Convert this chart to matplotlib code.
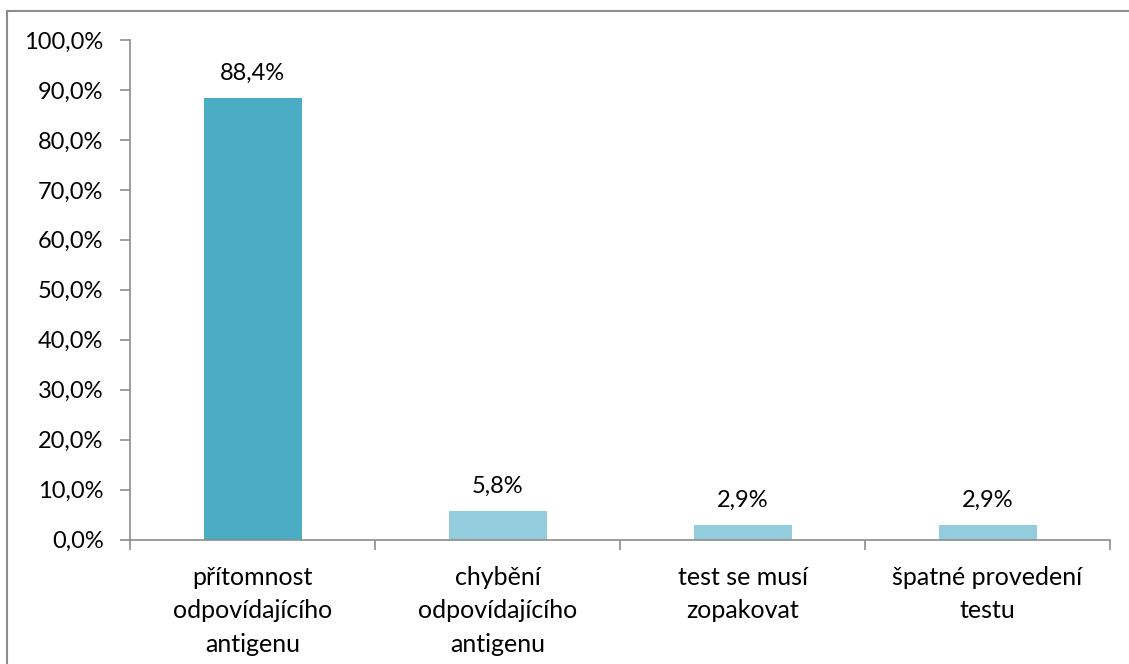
import matplotlib
matplotlib.use("Agg")
import matplotlib.pyplot as plt
from matplotlib.lines import Line2D
from matplotlib.ticker import FuncFormatter, MultipleLocator

categories = [
    "přítomnost\nodpovídajícího\nantigenu",
    "chybění\nodpovídajícího\nantigenu",
    "test se musí\nzopakovat",
    "špatné provedení\ntestu",
]
values = [88.4, 5.8, 2.9, 2.9]
bar_colors = ["#4BACC6", "#93CDDD", "#93CDDD", "#93CDDD"]

W, H = 1129, 664
plt.rcParams["font.family"] = ["Lato", "DejaVu Sans"]
fig = plt.figure(figsize=(W / 100, H / 100), dpi=100)

# frame lines along the top and left edge of the chart area
gray = "#8C8C8C"
fig.add_artist(Line2D([7 / W, 7 / W], [0, 1 - 10.5 / H], transform=fig.transFigure,
                      color=gray, lw=1.5))
fig.add_artist(Line2D([7 / W, 1], [1 - 10.5 / H, 1 - 10.5 / H], transform=fig.transFigure,
                      color=gray, lw=1.5))

left, right, bottom, top = 130, 1110, 539.5, 40
ax = fig.add_axes([left / W, 1 - bottom / H, (right - left) / W, (bottom - top) / H])

fs = 17
x = list(range(len(categories)))
bars = ax.bar(x, values, width=0.40, color=bar_colors, zorder=2)

ax.set_xlim(-0.5, len(categories) - 0.5)
ax.set_ylim(0, 100)
ax.yaxis.set_major_locator(MultipleLocator(10))
ax.yaxis.set_major_formatter(FuncFormatter(lambda v, p: f"{v:.1f}%".replace(".", ",")))

ax.set_xticks([i - 0.5 for i in range(len(categories) + 1)])
ax.set_xticklabels([])
ax.set_xticks(x, minor=True)
ax.set_xticklabels(categories, minor=True)
ax.tick_params(axis="x", which="minor", length=0, pad=19, labelsize=18,
               labelcolor="#000000")
ax.tick_params(axis="x", which="major", length=7, width=1.2, color=gray, direction="out")
ax.tick_params(axis="y", length=7, width=1.2, color=gray, direction="out",
               labelsize=fs, pad=12, labelcolor="#000000")
for lab in ax.get_xticklabels(minor=True):
    lab.set_linespacing(1.55)
    lab.set_horizontalalignment("center")

for s in ["top", "right"]:
    ax.spines[s].set_visible(False)
for s in ["left", "bottom"]:
    ax.spines[s].set_color(gray)
    ax.spines[s].set_linewidth(1.2)

for b, v in zip(bars, values):
    ax.annotate(f"{v:.1f}%".replace(".", ","), (b.get_x() + b.get_width() / 2, v),
                xytext=(0, 10), textcoords="offset points", ha="center", va="bottom",
                fontsize=fs, color="#000000")

fig.savefig("out.png", dpi=100, facecolor="white")
